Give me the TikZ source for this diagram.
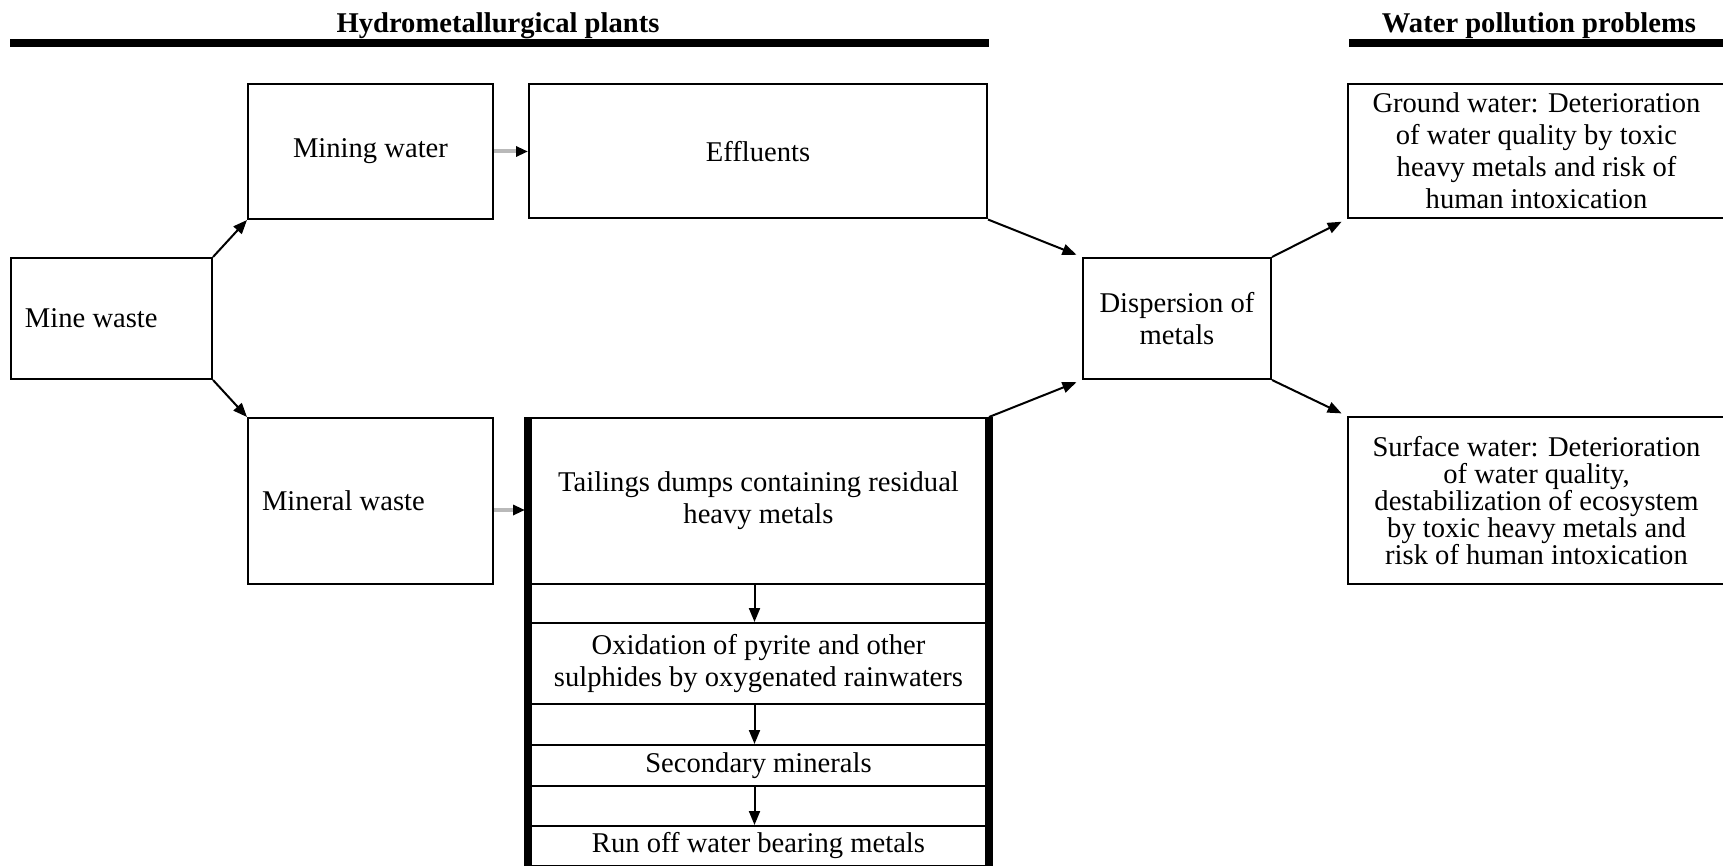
\documentclass[tikz,border=0pt]{standalone}
\usepackage{fontspec}
\setmainfont{Liberation Serif}
\usetikzlibrary{arrows.meta}

\tikzset{
    box/.style={draw, line width=1pt, inner sep=0pt, align=center},
    leftbox/.style={box, align=flush left, inner xsep=7pt},
    layer/.style={box, minimum width=229.5pt},
    head/.style={font=\fontsize{14.3}{16}\selectfont\bfseries},
    bar/.style={line width=4pt},
    flow/.style={line width=1pt, -{Triangle[length=7pt,width=5.5pt]}},
    feed/.style={line width=2pt, draw=gray!55, -{Triangle[length=6pt,width=5pt,color=black]}}
}

\begin{document}
\begin{tikzpicture}[x=0.5pt, y=-0.5pt, font=\fontsize{14.3}{16}\selectfont]
    \useasboundingbox (0,0) rectangle (1723,866);
    \node[head] (hydro) at (498,26) {Hydrometallurgical plants};
    \node[head] (pollution) at (1539,26) {Water pollution problems};
    \draw[bar] (10,43) -- (989,43);
    \draw[bar] (1349,43) -- (1723,43);
    \node[leftbox, text width=86.5pt, minimum height=60.5pt] (mine) at (111.5,318.5) {Mine waste};
    \node[box, minimum width=122.5pt, minimum height=67.5pt] (mining) at (370.5,151.5) {Mining water};
    \node[box, minimum width=229pt, minimum height=67pt] (effluents) at (758,151.5) {Effluents};
    \node[leftbox, text width=108.5pt, minimum height=83pt] (mineral) at (370.5,501) {Mineral waste};
    \node[layer, minimum height=83pt] (tailings) at (758.5,501) {Tailings dumps containing residual\\heavy metals};
    \node[layer, minimum height=40.5pt] (oxidation) at (758.5,663.5) {Oxidation of pyrite and other\\sulphides by oxygenated rainwaters};
    \node[layer, minimum height=20.5pt] (secondary) at (758.5,765.5) {Secondary minerals};
    \node[layer, minimum height=20pt] (runoff) at (758.5,846) {Run off water bearing metals};
    \draw[line width=4pt] (tailings.north west) -- (runoff.south west);
    \draw[line width=4pt] (tailings.north east) -- (runoff.south east);
    \node[box, minimum width=94pt, minimum height=60.5pt] (dispersion) at (1177,318.5) {Dispersion of\\metals};
    \node[box, minimum width=188.5pt, minimum height=67pt] (ground) at (1536.5,151) {Ground water: Deterioration\\of water quality by toxic\\heavy metals and risk of\\human intoxication};
    \node[box, minimum width=188.5pt, minimum height=83.5pt, font=\fontsize{14.3}{13.5}\selectfont] (surface) at (1536.5,500.5) {Surface water: Deterioration\\of water quality,\\destabilization of ecosystem\\by toxic heavy metals and\\risk of human intoxication};
    \draw[flow] (mine.north east) -- (mining.south west);
    \draw[flow] (mine.south east) -- (mineral.north west);
    \draw[feed] (mining.east) -- (effluents.west);
    \draw[feed, shorten >=1.5pt] ([yshift=-4.5pt]mineral.east) -- ([yshift=-4.5pt]tailings.west);
    \draw[flow] ([xshift=-2pt]tailings.south) -- ([xshift=-2pt]oxidation.north);
    \draw[flow] ([xshift=-2pt]oxidation.south) -- ([xshift=-2pt]secondary.north);
    \draw[flow] ([xshift=-2pt]secondary.south) -- ([xshift=-2pt]runoff.north);
    \draw[flow, shorten >=3pt] (effluents.south east) -- (dispersion.north west);
    \draw[flow, shorten >=3pt] (tailings.north east) -- (dispersion.south west);
    \draw[flow, shorten >=3pt] (dispersion.north east) -- (ground.south west);
    \draw[flow, shorten >=3pt] (dispersion.south east) -- (surface.north west);
\end{tikzpicture}
\end{document}
